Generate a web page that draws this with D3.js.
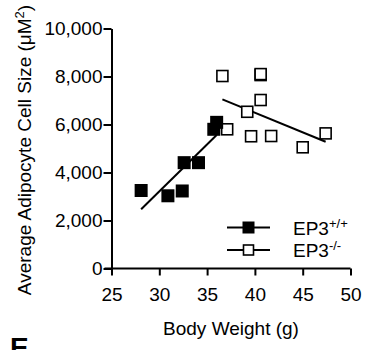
<!DOCTYPE html>
<html><head><meta charset="utf-8">
<script src="https://cdn.jsdelivr.net/npm/d3@7"></script>
<style>body{margin:0;background:#fff;} text{font-family:"Liberation Sans",Arial,sans-serif;}</style>
</head><body><svg id="c" width="365" height="350"></svg>
<script>
const wtWeight = [28.1, 30.9, 32.4, 32.6, 34.1, 35.7, 36.0];
const wtSize   = [3250, 3030, 3230, 4410, 4410, 5800, 6090];
const koWeight = [36.6, 37.1, 39.2, 39.6, 40.6, 40.6, 40.6, 41.7, 45.0, 47.4];
const koSize   = [8020, 5800, 6530, 5510, 8060, 8100, 7020, 5520, 5050, 5630];
const wtFitX = [28.1, 36.0], wtFitY = [2470, 5560];
const koFitX = [36.6, 47.4], koFitY = [7050, 5280];
const xTicks = [25, 30, 35, 40, 45, 50];
const yTicks = [0, 2000, 4000, 6000, 8000, 10000];

const FS = 19;
const svg = d3.select("#c");
const x = d3.scaleLinear().domain([25, 50]).range([111.5, 350.5]);
const y = d3.scaleLinear().domain([0, 10000]).range([268.5, 28.5]);

const xa = svg.append("g").attr("transform", "translate(0,268.5)")
  .call(d3.axisBottom(x).tickValues(xTicks).tickSize(7).tickPadding(12).tickSizeOuter(0));
const ya = svg.append("g").attr("transform", "translate(111.5,0)")
  .call(d3.axisLeft(y).tickValues(yTicks).tickSize(8).tickPadding(1).tickSizeOuter(0).tickFormat(d3.format(",")));
[xa, ya].forEach(a => {
  a.selectAll("path,line").attr("stroke", "#000").attr("stroke-width", 2);
  a.selectAll("text").attr("font-size", FS).attr("fill", "#000");
});
// extend x axis left to cross y axis
xa.select("path").attr("d", "M104.5,0H350.5");

svg.append("text").attr("transform", "translate(31,150) rotate(-90)")
  .attr("text-anchor", "middle").attr("font-size", FS).attr("fill", "#000")
  .html('Average Adipocyte Cell Size (μM<tspan dy="-7" font-size="13">2</tspan><tspan dy="7">)</tspan>');
svg.append("text").attr("x", 231).attr("y", 335).attr("text-anchor", "middle")
  .attr("font-size", FS).attr("fill", "#000").text("Body Weight (g)");

// regression lines
svg.append("line").attr("x1", x(wtFitX[0])).attr("y1", y(wtFitY[0])).attr("x2", x(wtFitX[1])).attr("y2", y(wtFitY[1]))
  .attr("stroke", "#000").attr("stroke-width", 2);
svg.append("line").attr("x1", x(koFitX[0])).attr("y1", y(koFitY[0])).attr("x2", x(koFitX[1])).attr("y2", y(koFitY[1]))
  .attr("stroke", "#000").attr("stroke-width", 2);

const s = 11;
svg.append("g").selectAll("rect").data(koWeight).join("rect")
  .attr("x", (d, i) => x(d) - s / 2).attr("y", (d, i) => y(koSize[i]) - s / 2)
  .attr("width", s).attr("height", s).attr("fill", "#fff").attr("stroke", "#000").attr("stroke-width", 1.6);
svg.append("g").selectAll("rect").data(wtWeight).join("rect")
  .attr("x", (d, i) => x(d) - 6.5).attr("y", (d, i) => y(wtSize[i]) - 6.5)
  .attr("width", 13).attr("height", 13).attr("fill", "#000");

// legend
const lg = svg.append("g");
[[227.5, false, "+/+"], [250, true, "-/-"]].forEach(([ly, open, sup]) => {
  lg.append("line").attr("x1", 227).attr("x2", 270).attr("y1", ly).attr("y2", ly).attr("stroke", "#000").attr("stroke-width", 2);
  if (open) lg.append("rect").attr("x", 243.5).attr("y", ly - 5).attr("width", 10).attr("height", 10).attr("fill", "#fff").attr("stroke", "#000").attr("stroke-width", 1.6);
  else lg.append("rect").attr("x", 242.5).attr("y", ly - 6).attr("width", 12).attr("height", 12).attr("fill", "#000");
  lg.append("text").attr("x", 293).attr("y", ly + 7).attr("font-size", FS).attr("fill", "#000")
    .html('EP3<tspan dy="-7" font-size="13">' + sup + '</tspan>');
});

svg.append("text").attr("x", 10).attr("y", 357).attr("font-size", 28).attr("font-weight", "bold").attr("fill", "#000").text("E");
</script></body></html>
